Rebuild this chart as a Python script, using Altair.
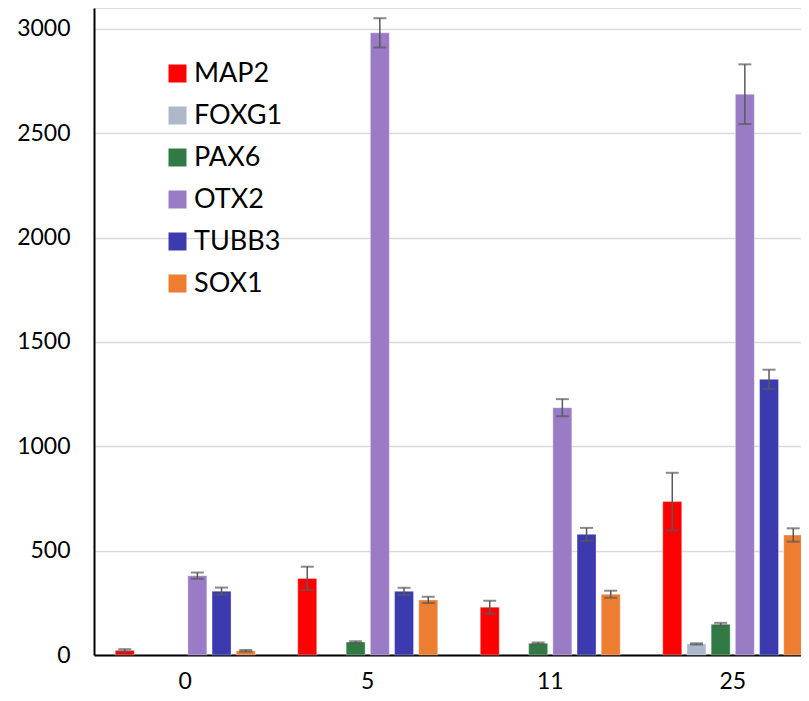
import altair as alt
import pandas as pd

days = ["0", "5", "11", "25"]
genes = ["MAP2", "FOXG1", "PAX6", "OTX2", "TUBB3", "SOX1"]
colors = ["#FF0000", "#ADB9CA", "#327A45", "#9A7CC6", "#3B3AAF", "#ED7D31"]

# values per gene, in order of days
map2 = [22, 367, 229, 735]
foxg1 = [0, 0, 0, 53]
pax6 = [0, 62, 56, 147]
otx2 = [380, 2981, 1185, 2687]
tubb3 = [306, 305, 578, 1321]
sox1 = [20, 264, 291, 575]

map2_err = [6, 56, 31, 138]
foxg1_err = [0, 0, 0, 3]
pax6_err = [0, 4, 4, 7]
otx2_err = [15, 70, 41, 143]
tubb3_err = [17, 17, 31, 46]
sox1_err = [4, 15, 17, 32]

vals = [map2, foxg1, pax6, otx2, tubb3, sox1]
errs = [map2_err, foxg1_err, pax6_err, otx2_err, tubb3_err, sox1_err]

rows = []
for g, v, e in zip(genes, vals, errs):
    for d, vv, ee in zip(days, v, e):
        if vv > 0:
            rows.append({"day": d, "gene": g, "value": vv, "err": ee})
df = pd.DataFrame(rows)

FONT = "Lato"

x = alt.X(
    "day:N",
    sort=days,
    scale=alt.Scale(domain=days, range=[0, 730], paddingInner=0.233, paddingOuter=0.1165),
    axis=alt.Axis(
        title=None, labelAngle=0, ticks=False, tickSize=0, labelPadding=15,
        labelFont=FONT, labelFontSize=23, labelColor="#000000",
        domainColor="#000000", domainWidth=2, grid=False,
    ),
)
xo = alt.XOffset("gene:N", sort=genes, scale=alt.Scale(domain=genes, paddingInner=0.215, paddingOuter=0))
yscale = alt.Scale(domain=[0, 3100], nice=False, zero=True)
yaxis = alt.Axis(
    title=None, values=[0, 500, 1000, 1500, 2000, 2500, 3000], format="d", ticks=False, tickSize=0,
    labelPadding=24, labelFont=FONT, labelFontSize=23, labelColor="#000000",
    domainColor="#000000", domainWidth=2, gridColor="#D9D9D9", gridWidth=1.3,
)

base = alt.Chart(df)

bars = base.mark_bar(stroke="white", strokeWidth=1, strokeOpacity=0.35).encode(
    x=x,
    xOffset=xo,
    y=alt.Y("value:Q", scale=yscale, axis=yaxis),
    color=alt.Color(
        "gene:N",
        sort=genes,
        scale=alt.Scale(domain=genes, range=colors),
        legend=alt.Legend(
            title=None, orient="none", legendX=70, legendY=52,
            symbolType="square", symbolSize=324, symbolStrokeWidth=0,
            labelFont=FONT, labelFontSize=27, labelColor="#000000",
            labelOffset=3, rowPadding=14, padding=0,
        ),
    ),
)

err_base = base.transform_calculate(lo="datum.value - datum.err", hi="datum.value + datum.err")

rules = err_base.mark_rule(color="#595959", strokeWidth=1.5).encode(
    x=x, xOffset=xo, y=alt.Y("lo:Q", scale=yscale), y2="hi:Q"
)
ticks_lo = err_base.mark_tick(color="#595959", thickness=2, size=13, orient="horizontal").encode(
    x=x, xOffset=xo, y=alt.Y("lo:Q", scale=yscale)
)
ticks_hi = err_base.mark_tick(color="#595959", thickness=2, size=13, orient="horizontal").encode(
    x=x, xOffset=xo, y=alt.Y("hi:Q", scale=yscale)
)

chart = alt.layer(bars, rules, ticks_lo, ticks_hi).properties(
    width=707,
    height=647,
    autosize=alt.AutoSizeParams(type="none"),
    padding={"left": 86, "top": 0, "right": 0, "bottom": 38},
).configure_view(stroke=None).configure(background="white")

chart.save("out.html", embed_options={"renderer": "svg", "actions": False})
